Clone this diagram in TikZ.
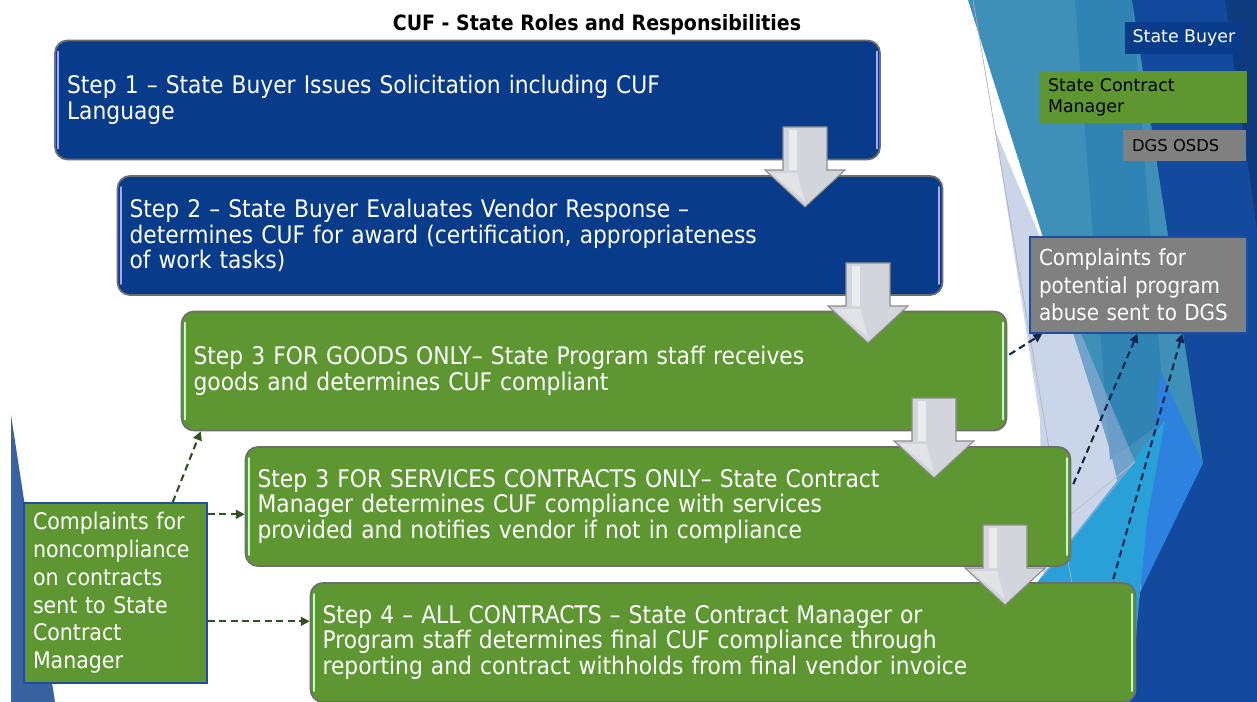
\documentclass[tikz,border=0pt]{standalone}
\usepackage{fontspec}
\setmainfont{DejaVu Sans Condensed}
\newfontfamily\legendfont{DejaVu Sans}
\usetikzlibrary{arrows.meta,calc,positioning}

\definecolor{buyerblue}{HTML}{083B8A}
\definecolor{stepgreen}{HTML}{5E9732}
\definecolor{osdsgray}{HTML}{808080}
\definecolor{boxrim}{HTML}{6E6E6E}
\definecolor{keyrim}{HTML}{1F4E9C}
\definecolor{dashgreen}{HTML}{2F5220}
\definecolor{dashnavy}{HTML}{13284F}
\definecolor{facetteal}{HTML}{3E90B8}
\definecolor{facetdeep}{HTML}{2F84B4}
\definecolor{facetdark}{HTML}{134A9E}
\definecolor{facetazure}{HTML}{2C82DE}
\definecolor{facetcyan}{HTML}{2AA0D8}
\definecolor{facetpale}{HTML}{9FB3D9}
\definecolor{arrowfill}{HTML}{D2D5DB}

\tikzset{
  stepbox/.style={rectangle, rounded corners=7pt, draw=boxrim, line width=1pt,
    text=white, align=left, inner xsep=0.24cm, text width=16.02cm,
    minimum height=2.38cm, font=\fontsize{13.8}{14.7}\selectfont},
  buyerstep/.style={stepbox, fill=buyerblue},
  greenstep/.style={stepbox, fill=stepgreen},
  keybox/.style={rectangle, inner sep=0pt, font=\legendfont\fontsize{9.9}{11.9}\selectfont},
  notebox/.style={rectangle, draw=keyrim, line width=.8pt, text=white, align=left,
    inner xsep=0.18cm},
  arrowbody/.style={fill=arrowfill, draw=black!45, line width=.6pt},
  greendash/.style={draw=dashgreen, line width=1.2pt, dash pattern=on 4pt off 2.5pt,
    -{Triangle[length=5pt,width=5pt]}},
  navydash/.style={draw=dashnavy, line width=1.2pt, dash pattern=on 4pt off 2.5pt,
    -{Triangle[length=5pt,width=5pt]}},
}

% light edge lines inside a step box
\newcommand{\boxshine}[2]{%
  \draw[#2, line width=1.2pt, line cap=round] ($(#1.north west)+(4,12)$) -- ($(#1.south west)+(4,-12)$);
  \draw[#2, line width=1.2pt, line cap=round] ($(#1.north east)+(-4,12)$) -- ($(#1.south east)+(-4,-12)$);}

% grey block arrow between two steps
\newcommand{\flowarrow}[1]{%
  \filldraw[arrowbody, shift={(#1)}] (-22,0) -- (22,0) -- (22,43) -- (40,43) -- (0,80)
    -- (-40,43) -- (-22,43) -- cycle;
  \fill[white, opacity=.55, shift={(#1)}] (-16,3) rectangle (-8,43);
  \fill[white, opacity=.35, shift={(#1)}] (-34,46) -- (-8,46) -- (0,74) -- cycle;}

\begin{document}
\begin{tikzpicture}[x=0.02cm, y=-0.02cm]
	\useasboundingbox (0,0) rectangle (1257,702);
	\fill[white] (0,0) rectangle (1257,702);

	% background facets
	\fill[facetteal] (968,0) -- (1257,0) -- (1257,702) -- (1170,702) -- (1110,450) -- cycle;
	\fill[facetdeep] (1075,0) -- (1132,0) -- (1165,420) -- (1110,460) -- cycle;
	\fill[facetdark] (1132,0) -- (1257,0) -- (1257,702) -- (1125,702) -- (1140,592) -- (1203,463) -- cycle;
	\fill[facetdark!80!black] (1225,0) -- (1257,0) -- (1257,230) -- cycle;
	\fill[facetazure] (1160,370) -- (1203,463) -- (1140,592) -- (1147,520) -- cycle;
	\fill[facetcyan] (1165,420) -- (1147,520) -- (1140,592) -- (1130,702) -- (943,702) -- cycle;
	\fill[facetpale, opacity=.55] (995,130) -- (1135,462) -- (1043,577) -- (1040,420) -- cycle;
	\draw[black!30, line width=.4pt] (973,0) -- (1092,702);
	\draw[black!25, line width=.4pt] (1070,515) -- (1135,462);
	\fill[buyerblue!80!white] (11,415) -- (11,702) -- (55,702) -- cycle;

	% title
	\node[font=\bfseries\fontsize{12}{14}\selectfont] (title) at (597,25) {CUF - State Roles and Responsibilities};

	% steps
	\node[buyerstep] (s1) at (467.5,100) {Step 1 – State Buyer Issues Solicitation including CUF\\Language};
	\node[buyerstep] (s2) at (530,235.5) {Step 2 – State Buyer Evaluates Vendor Response –\\determines CUF for award (certification, appropriateness\\of work tasks)};
	\node[greenstep] (s3) at (594,371) {Step 3 FOR GOODS ONLY– State Program staff receives\\goods and determines CUF compliant};
	\node[greenstep] (s4) at (658,506.5) {Step 3 FOR SERVICES CONTRACTS ONLY– State Contract\\Manager determines CUF compliance with services\\provided and notifies vendor if not in compliance};
	\node[greenstep] (s5) at (723,642.5) {Step 4 – ALL CONTRACTS – State Contract Manager or\\Program staff determines final CUF compliance through\\reporting and contract withholds from final vendor invoice};
	\boxshine{s1}{blue!35!white}
	\boxshine{s2}{blue!35!white}
	\boxshine{s3}{green!25!white}
	\boxshine{s4}{green!25!white}
	\boxshine{s5}{green!25!white}

	\flowarrow{805,127}
	\flowarrow{868,263}
	\flowarrow{934,398}
	\flowarrow{1005,525}

	% legend
	\node[keybox, fill=buyerblue, text=white, minimum width=2.36cm, minimum height=0.64cm] (sbkey) at (1184,38) {State Buyer};
	\node[keybox, fill=stepgreen, align=left, text width=3.8cm, inner xsep=0.18cm, minimum height=1.04cm] (scmkey) at (1143,97) {State Contract\\Manager};
	\node[keybox, fill=osdsgray, align=left, text width=2.1cm, inner xsep=0.18cm, minimum height=0.62cm, font=\legendfont\fontsize{9.3}{11}\selectfont] (osdskey) at (1184.5,145.5) {DGS OSDS};

	% complaint boxes
	\node[notebox, fill=osdsgray, text width=3.98cm, minimum height=1.92cm, font=\fontsize{12.6}{15.6}\selectfont] (abuse) at (1138.5,285) {Complaints for\\potential program\\abuse sent to DGS};
	\node[notebox, fill=stepgreen, text width=3.3cm, minimum height=3.6cm, font=\fontsize{13}{15.8}\selectfont] (noncomp) at (115.5,593) {Complaints for\\noncompliance\\on contracts\\sent to State\\Contract\\Manager};

	% dashed connectors
	\coordinate (n1) at ($(noncomp.north east)+(0,12)$);
	\coordinate (n2) at ($(noncomp.north east)+(0,119)$);
	\draw[greendash] ($(noncomp.north east)+(-35,0)$) -- ($(s3.south west)+(20,0)$);
	\draw[greendash] (n1) -- (n1 -| s4.west);
	\draw[greendash] (n2) -- (n2 -| s5.west);
	\draw[navydash] ($(s3.north east)+(2,44)$) -- ($(abuse.south west)+(13,0)$);
	\draw[navydash] ($(s4.north east)+(2,38)$) -- ($(abuse.south west)+(108,0)$);
	\draw[navydash] ($(s5.north east)+(-23,-3)$) -- ($(abuse.south west)+(153,0)$);
\end{tikzpicture}
\end{document}
